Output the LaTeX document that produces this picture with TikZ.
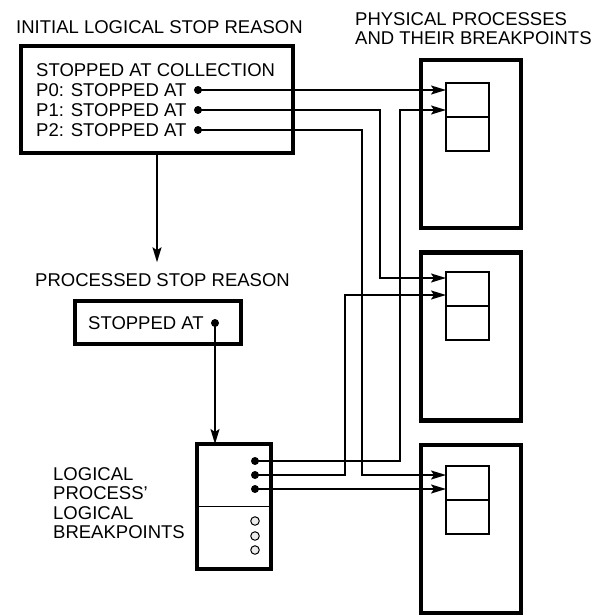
\documentclass[tikz,border=0pt]{standalone}
\usepackage{fontspec}
\setmainfont{Liberation Sans}
\usetikzlibrary{arrows.meta,calc,positioning}

\begin{document}
\begin{tikzpicture}[x=1pt,y=-1pt,
  lbl/.style={inner sep=0pt, font=\fontsize{18.5}{19.5}\selectfont},
  heavybox/.style={draw, line width=4.2pt, inner sep=0pt, outer sep=0pt},
  slotbox/.style={draw, line width=1.8pt, minimum width=43pt, minimum height=34pt, inner sep=0pt, outer sep=0pt},
  bullet/.style={circle, fill, inner sep=0pt, minimum size=8pt},
  hollow/.style={circle, draw, fill=gray!15, line width=1pt, inner sep=0pt, minimum size=8.5pt},
  wire/.style={line width=1.8pt},
  feed/.style={wire, -{Stealth[length=15pt, width=9pt, inset=3pt]}},
]
\useasboundingbox (0,0) rectangle (602,616);

% initial logical stop reason
\node[lbl, anchor=west] (inittitle) at (16,27) {INITIAL LOGICAL STOP REASON};
\node[heavybox, minimum width=272pt, minimum height=107pt] (initbox) at (157,99.5) {};
\node[lbl, anchor=west] (coll) at (36,70) {STOPPED AT COLLECTION};
\node[lbl, anchor=west] (tp0) at (36,90) {P0: STOPPED AT};
\node[lbl, anchor=west] (tp1) at (36,110) {P1: STOPPED AT};
\node[lbl, anchor=west] (tp2) at (36,130) {P2: STOPPED AT};
\node[bullet] (p0) at (198,90) {};
\node[bullet] (p1) at (198,110) {};
\node[bullet] (p2) at (198,130) {};

% processed stop reason
\node[lbl, anchor=west] (proctitle) at (35,280) {PROCESSED STOP REASON};
\node[heavybox, minimum width=166pt, minimum height=43pt] (procbox) at (158,322.5) {};
\node[lbl, anchor=west] (tproc) at (88,323) {STOPPED AT};
\node[bullet] (pdot) at (215,323) {};

% logical breakpoints
\node[lbl, anchor=west, align=left] (loglbl) at (53,503) {LOGICAL\\PROCESS'\\LOGICAL\\BREAKPOINTS};
\node[heavybox, minimum width=74pt, minimum height=125pt] (logbox) at (234,506.5) {};
\draw[line width=1.8pt] (logbox.west) -- (logbox.east);
\node[bullet] (l1) at (255,461) {};
\node[bullet] (l2) at (255,475) {};
\node[bullet] (l3) at (255,489) {};
\foreach \y/\n in {521/h1,536/h2,550/h3}
  \node[hollow] (\n) at (255,\y) {};

% physical processes
\node[lbl, anchor=west, align=left] (phystitle) at (355,28.5) {PHYSICAL PROCESSES\\AND THEIR BREAKPOINTS};
\node[heavybox, minimum width=100pt, minimum height=168pt] (ph1) at (471,144) {};
\node[heavybox, minimum width=100pt, minimum height=168pt] (ph2) at (471,336.5) {};
\node[heavybox, minimum width=100pt, minimum height=168pt] (ph3) at (471,529) {};
\node[slotbox] (s1a) at (467.5,100) {};
\node[slotbox] (s1b) at (467.5,134) {};
\node[slotbox] (s2a) at (467.5,289) {};
\node[slotbox] (s2b) at (467.5,323) {};
\node[slotbox] (s3a) at (467.5,483) {};
\node[slotbox] (s3b) at (467.5,517) {};

% entry points and vertical lanes
\coordinate (in1b) at ($(s1a.north west)+(0,27)$);
\coordinate (in2a) at ($(s2a.north west)+(0,6)$);
\coordinate (in2b) at ($(s2a.north west)+(0,23)$);
\coordinate (in3a) at ($(s3a.north west)+(0,9)$);
\coordinate (laneL2) at (345,0);
\coordinate (laneP2) at (362,0);
\coordinate (laneP1) at (380,0);
\coordinate (laneL1) at (400,0);

% connectors
\draw[feed] (initbox.south) -- ($(initbox.south |- proctitle.north)+(0,-11)$);
\draw[feed] (pdot.center) -- (pdot |- logbox.north);
\draw[feed] (p0.center) -- (p0 -| s1a.west);
\draw[feed] (p1.center) -| (laneP1 |- in2a) -- (in2a);
\draw[feed] (p2.center) -| (laneP2 |- in3a) -- (in3a);
\draw[feed] (l1.center) -| (laneL1 |- in1b) -- (in1b);
\draw[feed] (l2.center) -| (laneL2 |- in2b) -- (in2b);
\draw[feed] (l3.center) -- (l3 -| s3a.west);
\end{tikzpicture}
\end{document}
